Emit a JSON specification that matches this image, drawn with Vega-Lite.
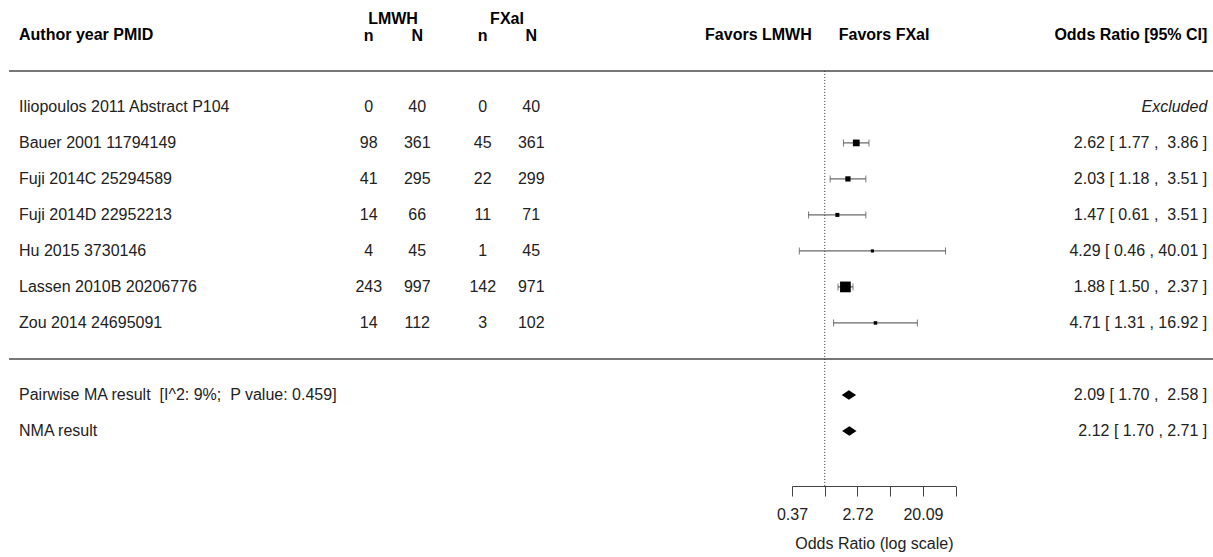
{
  "$schema": "https://vega.github.io/schema/vega-lite/v6.json",
  "padding": {"left": 8, "top": 0, "right": 0, "bottom": 8},
  "autosize": {"type": "pad"},
  "spacing": 0,
  "bounds": "flush",
  "config": {
    "view": {"stroke": null},
    "font": "Liberation Sans",
    "text": {"font": "Liberation Sans", "fontSize": 16, "color": "#222", "baseline": "middle"}
  },
  "datasets": {
    "studies": [
      {"label": "Iliopoulos 2011 Abstract P104", "row": 1, "lmwh_n": 0, "lmwh_N": 40, "fxai_n": 0, "fxai_N": 40, "or": null, "lo": null, "hi": null, "weight": null, "ci": "Excluded"},
      {"label": "Bauer 2001 11794149", "row": 2, "lmwh_n": 98, "lmwh_N": 361, "fxai_n": 45, "fxai_N": 361, "or": 2.62, "lo": 1.77, "hi": 3.86, "weight": 21.1, "ci": "2.62 [ 1.77 ,\u00a0 3.86 ]"},
      {"label": "Fuji 2014C 25294589", "row": 3, "lmwh_n": 41, "lmwh_N": 295, "fxai_n": 22, "fxai_N": 299, "or": 2.03, "lo": 1.18, "hi": 3.51, "weight": 10.8, "ci": "2.03 [ 1.18 ,\u00a0 3.51 ]"},
      {"label": "Fuji 2014D 22952213", "row": 4, "lmwh_n": 14, "lmwh_N": 66, "fxai_n": 11, "fxai_N": 71, "or": 1.47, "lo": 0.61, "hi": 3.51, "weight": 4.2, "ci": "1.47 [ 0.61 ,\u00a0 3.51 ]"},
      {"label": "Hu 2015 3730146", "row": 5, "lmwh_n": 4, "lmwh_N": 45, "fxai_n": 1, "fxai_N": 45, "or": 4.29, "lo": 0.46, "hi": 40.01, "weight": 0.6, "ci": "4.29 [ 0.46 , 40.01 ]"},
      {"label": "Lassen 2010B 20206776", "row": 6, "lmwh_n": 243, "lmwh_N": 997, "fxai_n": 142, "fxai_N": 971, "or": 1.88, "lo": 1.50, "hi": 2.37, "weight": 61.4, "ci": "1.88 [ 1.50 ,\u00a0 2.37 ]"},
      {"label": "Zou 2014 24695091", "row": 7, "lmwh_n": 14, "lmwh_N": 112, "fxai_n": 3, "fxai_N": 102, "or": 4.71, "lo": 1.31, "hi": 16.92, "weight": 2.0, "ci": "4.71 [ 1.31 , 16.92 ]"}
    ],
    "pooled": [
      {"label": "Pairwise MA result \u00a0[I^2: 9%; \u00a0P value: 0.459]", "row": 9, "or": 2.09, "lo": 1.70, "hi": 2.58, "ci": "2.09 [ 1.70 ,\u00a0 2.58 ]"},
      {"label": "NMA result", "row": 10, "or": 2.12, "lo": 1.70, "hi": 2.71, "ci": "2.12 [ 1.70 , 2.71 ]"}
    ],
    "separators": [{"row": 0}, {"row": 8}],
    "headers": [
      {"panel": "study", "col": "label", "text": "Author year PMID"},
      {"panel": "lmwh", "col": "lmwh_n", "text": "n"},
      {"panel": "lmwh", "col": "lmwh_N", "text": "N"},
      {"panel": "fxai", "col": "fxai_n", "text": "n"},
      {"panel": "fxai", "col": "fxai_N", "text": "N"},
      {"panel": "or", "col": "ci", "text": "Odds Ratio [95% CI]"}
    ],
    "groups": [
      {"panel": "lmwh", "text": "LMWH"},
      {"panel": "fxai", "text": "FXaI"}
    ],
    "reference": [{"null_or": 1}]
  },
  "hconcat": [
    {
      "width": 326.5,
      "height": 486,
      "layer": [
        {
          "data": {"name": "separators"},
          "mark": {"type": "rule", "color": "#777", "strokeWidth": 2},
          "encoding": {"y": {"field": "row", "type": "quantitative", "scale": {"domain": [-1.97, 11.53], "nice": false, "zero": false, "reverse": true}, "axis": null}}
        },
        {
          "data": {"name": "studies"},
          "transform": [{"fold": ["label"], "as": ["col", "txt"]}],
          "mark": {"type": "text", "align": "left", "dx": 10},
          "encoding": {
            "x": {"field": "col", "type": "nominal", "scale": {"type": "point", "padding": 0, "align": 0}, "axis": null},
            "y": {"field": "row", "type": "quantitative", "axis": null},
            "text": {"field": "txt", "type": "nominal"}
          }
        },
        {
          "data": {"name": "pooled"},
          "transform": [{"fold": ["label"], "as": ["col", "txt"]}],
          "mark": {"type": "text", "align": "left", "dx": 10},
          "encoding": {
            "x": {"field": "col", "type": "nominal", "axis": null},
            "y": {"field": "row", "type": "quantitative", "axis": null},
            "text": {"field": "txt", "type": "nominal"}
          }
        },
        {
          "data": {"name": "headers"},
          "transform": [{"filter": "datum.panel == 'study'"}],
          "mark": {"type": "text", "align": "left", "dx": 10, "fontWeight": "bold", "color": "#000"},
          "encoding": {
            "x": {"field": "col", "type": "nominal", "axis": null},
            "y": {"datum": -1, "type": "quantitative", "axis": null},
            "text": {"field": "text", "type": "nominal"}
          }
        }
      ]
    },
    {
      "width": 114,
      "height": 486,
      "layer": [
        {
          "data": {"name": "separators"},
          "mark": {"type": "rule", "color": "#777", "strokeWidth": 2, "strokeCap": "square"},
          "encoding": {"y": {"field": "row", "type": "quantitative", "scale": {"domain": [-1.97, 11.53], "nice": false, "zero": false, "reverse": true}, "axis": null}}
        },
        {
          "data": {"name": "studies"},
          "transform": [{"fold": ["lmwh_n", "lmwh_N"], "as": ["col", "val"]}],
          "mark": {"type": "text", "align": "center"},
          "encoding": {
            "x": {"field": "col", "type": "nominal", "scale": {"type": "point", "domain": ["lmwh_n", "lmwh_N"], "padding": 0.675}, "axis": null},
            "y": {"field": "row", "type": "quantitative", "axis": null},
            "text": {"field": "val", "type": "nominal"}
          }
        },
        {
          "data": {"name": "headers"},
          "transform": [{"filter": "datum.panel == 'lmwh'"}],
          "mark": {"type": "text", "align": "center", "fontWeight": "bold", "color": "#000"},
          "encoding": {
            "x": {"field": "col", "type": "nominal", "axis": null},
            "y": {"datum": -0.98, "type": "quantitative", "axis": null},
            "text": {"field": "text", "type": "nominal"}
          }
        },
        {
          "data": {"name": "groups"},
          "transform": [{"filter": "datum.panel == 'lmwh'"}],
          "mark": {"type": "text", "align": "center", "fontWeight": "bold", "color": "#000"},
          "encoding": {
            "y": {"datum": -1.44, "type": "quantitative", "axis": null},
            "text": {"field": "text", "type": "nominal"}
          }
        }
      ]
    },
    {
      "width": 114,
      "height": 486,
      "layer": [
        {
          "data": {"name": "separators"},
          "mark": {"type": "rule", "color": "#777", "strokeWidth": 2, "strokeCap": "square"},
          "encoding": {"y": {"field": "row", "type": "quantitative", "scale": {"domain": [-1.97, 11.53], "nice": false, "zero": false, "reverse": true}, "axis": null}}
        },
        {
          "data": {"name": "studies"},
          "transform": [{"fold": ["fxai_n", "fxai_N"], "as": ["col", "val"]}],
          "mark": {"type": "text", "align": "center"},
          "encoding": {
            "x": {"field": "col", "type": "nominal", "scale": {"type": "point", "domain": ["fxai_n", "fxai_N"], "padding": 0.675}, "axis": null},
            "y": {"field": "row", "type": "quantitative", "axis": null},
            "text": {"field": "val", "type": "nominal"}
          }
        },
        {
          "data": {"name": "headers"},
          "transform": [{"filter": "datum.panel == 'fxai'"}],
          "mark": {"type": "text", "align": "center", "fontWeight": "bold", "color": "#000"},
          "encoding": {
            "x": {"field": "col", "type": "nominal", "axis": null},
            "y": {"datum": -0.98, "type": "quantitative", "axis": null},
            "text": {"field": "text", "type": "nominal"}
          }
        },
        {
          "data": {"name": "groups"},
          "transform": [{"filter": "datum.panel == 'fxai'"}],
          "mark": {"type": "text", "align": "center", "fontWeight": "bold", "color": "#000"},
          "encoding": {
            "y": {"datum": -1.44, "type": "quantitative", "axis": null},
            "text": {"field": "text", "type": "nominal"}
          }
        }
      ]
    },
    {
      "width": 227.5,
      "height": 486,
      "data": {"name": "separators"},
      "mark": {"type": "rule", "color": "#777", "strokeWidth": 2, "strokeCap": "square"},
      "encoding": {"y": {"field": "row", "type": "quantitative", "scale": {"domain": [-1.97, 11.53], "nice": false, "zero": false, "reverse": true}, "axis": null}}
    },
    {
      "width": 163.7,
      "height": 486,
      "layer": [
        {
          "data": {"name": "separators"},
          "mark": {"type": "rule", "color": "#777", "strokeWidth": 2, "strokeCap": "square"},
          "encoding": {"y": {"field": "row", "type": "quantitative", "scale": {"domain": [-1.97, 11.53], "nice": false, "zero": false, "reverse": true}, "axis": null}}
        },
        {
          "data": {"name": "reference"},
          "mark": {"type": "rule", "color": "#333", "strokeWidth": 1, "strokeDash": [1, 2]},
          "encoding": {
            "x": {
              "field": "null_or", "type": "quantitative",
              "scale": {"type": "log", "domain": [0.3678794, 54.59815], "nice": false},
              "axis": {
                "orient": "bottom",
                "values": [0.3678794, 1, 2.7182818, 7.3890561, 20.0855369, 54.59815],
                "labelExpr": "abs(log(datum.value) + 1) < 0.01 || abs(log(datum.value) - 1) < 0.01 || abs(log(datum.value) - 3) < 0.01 ? format(datum.value, '.2f') : ''",
                "grid": false,
                "tickSize": 10,
                "tickColor": "#444",
                "domainColor": "#444",
                "labelFlush": false,
                "labelOverlap": false,
                "labelPadding": 10,
                "labelFont": "Liberation Sans",
                "labelFontSize": 16,
                "labelColor": "#222",
                "title": "Odds Ratio (log scale)",
                "titleFont": "Liberation Sans",
                "titleFontSize": 16,
                "titleFontWeight": "normal",
                "titleColor": "#222",
                "titlePadding": 13
              }
            },
            "y": {"datum": 0, "type": "quantitative", "axis": null},
            "y2": {"datum": 11.53}
          }
        },
        {
          "data": {"name": "studies"},
          "transform": [{"filter": "isValid(datum.or)"}],
          "mark": {"type": "rule", "color": "#444", "strokeWidth": 1},
          "encoding": {
            "x": {"field": "lo", "type": "quantitative"},
            "x2": {"field": "hi"},
            "y": {"field": "row", "type": "quantitative", "axis": null}
          }
        },
        {
          "data": {"name": "studies"},
          "transform": [{"filter": "isValid(datum.or)"}, {"fold": ["lo", "hi"], "as": ["end", "val"]}],
          "mark": {"type": "tick", "orient": "vertical", "size": 7, "thickness": 1, "color": "#444"},
          "encoding": {
            "x": {"field": "val", "type": "quantitative"},
            "y": {"field": "row", "type": "quantitative", "axis": null}
          }
        },
        {
          "data": {"name": "studies"},
          "transform": [{"filter": "isValid(datum.or)"}],
          "mark": {"type": "point", "shape": "square", "filled": true, "color": "#000", "opacity": 1},
          "encoding": {
            "x": {"field": "or", "type": "quantitative"},
            "y": {"field": "row", "type": "quantitative", "axis": null},
            "size": {"field": "weight", "type": "quantitative", "scale": {"domain": [0.6, 61.4], "range": [10, 115], "zero": false}, "legend": null}
          }
        },
        {
          "data": {"name": "pooled"},
          "mark": {"type": "point", "shape": "M-1,0L0,-0.66L1,0L0,0.66Z", "filled": true, "color": "#000", "opacity": 1, "size": 207},
          "encoding": {
            "x": {"field": "or", "type": "quantitative"},
            "y": {"field": "row", "type": "quantitative", "axis": null}
          }
        },
        {
          "data": {"name": "reference"},
          "mark": {"type": "text", "text": "Favors LMWH", "align": "right", "dx": -13, "fontWeight": "bold", "color": "#000"},
          "encoding": {
            "x": {"field": "null_or", "type": "quantitative"},
            "y": {"datum": -1, "type": "quantitative", "axis": null}
          }
        },
        {
          "data": {"name": "reference"},
          "mark": {"type": "text", "text": "Favors FXaI", "align": "left", "dx": 14, "fontWeight": "bold", "color": "#000"},
          "encoding": {
            "x": {"field": "null_or", "type": "quantitative"},
            "y": {"datum": -1, "type": "quantitative", "axis": null}
          }
        }
      ]
    },
    {
      "width": 259.3,
      "height": 486,
      "layer": [
        {
          "data": {"name": "separators"},
          "mark": {"type": "rule", "color": "#777", "strokeWidth": 2, "strokeCap": "square"},
          "encoding": {"y": {"field": "row", "type": "quantitative", "scale": {"domain": [-1.97, 11.53], "nice": false, "zero": false, "reverse": true}, "axis": null}}
        },
        {
          "data": {"name": "studies"},
          "transform": [{"filter": "isValid(datum.or)"}, {"fold": ["ci"], "as": ["col", "txt"]}],
          "mark": {"type": "text", "align": "right", "dx": -8},
          "encoding": {
            "x": {"field": "col", "type": "nominal", "scale": {"type": "point", "padding": 0, "align": 1}, "axis": null},
            "y": {"field": "row", "type": "quantitative", "axis": null},
            "text": {"field": "txt", "type": "nominal"}
          }
        },
        {
          "data": {"name": "studies"},
          "transform": [{"filter": "!isValid(datum.or)"}, {"fold": ["ci"], "as": ["col", "txt"]}],
          "mark": {"type": "text", "align": "right", "dx": -8, "fontStyle": "italic"},
          "encoding": {
            "x": {"field": "col", "type": "nominal", "axis": null},
            "y": {"field": "row", "type": "quantitative", "axis": null},
            "text": {"field": "txt", "type": "nominal"}
          }
        },
        {
          "data": {"name": "pooled"},
          "transform": [{"fold": ["ci"], "as": ["col", "txt"]}],
          "mark": {"type": "text", "align": "right", "dx": -8},
          "encoding": {
            "x": {"field": "col", "type": "nominal", "axis": null},
            "y": {"field": "row", "type": "quantitative", "axis": null},
            "text": {"field": "txt", "type": "nominal"}
          }
        },
        {
          "data": {"name": "headers"},
          "transform": [{"filter": "datum.panel == 'or'"}],
          "mark": {"type": "text", "align": "right", "dx": -8, "fontWeight": "bold", "color": "#000"},
          "encoding": {
            "x": {"field": "col", "type": "nominal", "axis": null},
            "y": {"datum": -1, "type": "quantitative", "axis": null},
            "text": {"field": "text", "type": "nominal"}
          }
        }
      ]
    }
  ]
}
